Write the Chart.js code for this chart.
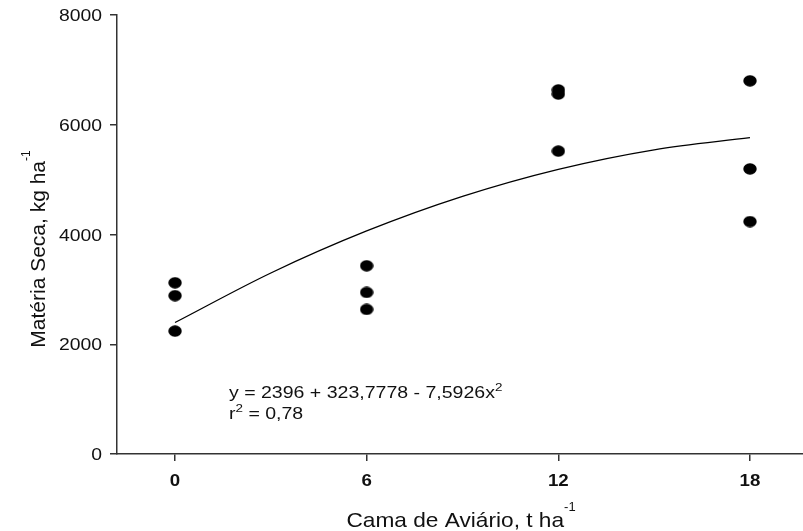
<!DOCTYPE html>
<html>
<head>
<meta charset="utf-8">
<script src="https://cdn.jsdelivr.net/npm/chart.js@4/dist/chart.umd.min.js"></script>
<style>
  body { margin: 0; background: #fff; }
  #wrap { width: 803px; height: 531px; }
</style>
</head>
<body>
<div id="wrap"><canvas id="chart" width="803" height="531"></canvas></div>
<script>
const doses = [0, 0, 0, 6, 6, 6, 12, 12, 12, 18, 18, 18];
const materiaSeca = [3120, 2885, 2240, 3430, 2945, 2635, 6635, 6560, 5520, 6800, 5195, 4235];

// Fitted curve, read at a few doses
const curveDoses = [0, 3, 6, 9, 12, 15, 18];
const curveValues = [2396, 3299, 4065, 4695, 5188, 5544, 5764];

// Tick labels
const xTicks = [0, 6, 12, 18];
const yTicks = [0, 2000, 4000, 6000, 8000];

const FONT = "'Liberation Sans', Arial, Helvetica, sans-serif";

// Filled ellipse used as the marker
function makeDot() {
    const c = document.createElement('canvas');
    c.width = 14;
    c.height = 12;
    const g = c.getContext('2d');
    g.fillStyle = '#000';
    g.beginPath();
    g.ellipse(7, 6, 6.7, 5.7, 0, 0, Math.PI * 2);
    g.fill();
    return c;
}

// Draw text pieces (with optional superscripts), stretched horizontally by sx
function drawRich(ctx, parts, x, y, o) {
    const size = o.size, sx = o.sx || 1;
    const weight = o.bold ? 'bold ' : '';
    const supSize = o.supSize || Math.round(size * 0.6);
    let total = 0;
    const widths = parts.map(p => {
        ctx.font = weight + (p.sup ? supSize : size) + 'px ' + FONT;
        const w = ctx.measureText(p.t).width * sx;
        total += w;
        return w;
    });
    ctx.save();
    ctx.translate(x, y);
    if (o.rotate) ctx.rotate(o.rotate);
    let cx = o.align === 'right' ? -total : o.align === 'center' ? -total / 2 : 0;
    ctx.fillStyle = '#111';
    ctx.textBaseline = 'alphabetic';
    ctx.textAlign = 'left';
    parts.forEach((p, i) => {
        ctx.save();
        ctx.font = weight + (p.sup ? supSize : size) + 'px ' + FONT;
        ctx.translate(cx, p.sup ? -o.supRaise : 0);
        ctx.scale(sx, 1);
        ctx.fillText(p.t, 0, 0);
        ctx.restore();
        cx += widths[i];
    });
    ctx.restore();
}

const textPlugin = {
    id: 'texts',
    afterDraw(chart) {
        const ctx = chart.ctx;
        const xs = chart.scales.x, ys = chart.scales.y;

        // y tick labels
        ys.ticks.forEach(t => {
            const py = ys.getPixelForValue(t.value);
            drawRich(ctx, [{ t: String(t.value) }], 102, py + 6, { size: 16, sx: 1.21, align: 'right' });
        });
        // x tick labels
        xs.ticks.forEach(t => {
            const px = xs.getPixelForValue(t.value);
            drawRich(ctx, [{ t: String(t.value) }], px, 485.5, { size: 17, sx: 1.1, bold: true, align: 'center' });
        });

        // axis titles
        drawRich(ctx, [{ t: 'Cama de Aviário, t ha' }, { t: '-1', sup: true }], 461, 527,
            { size: 21, sx: 1.08, align: 'center', supSize: 12, supRaise: 16 });
        drawRich(ctx, [{ t: 'Matéria Seca, kg ha' }, { t: '-1', sup: true }], 45, 249,
            { size: 21, sx: 1.0, align: 'center', rotate: -Math.PI / 2, supSize: 12, supRaise: 15 });

        // regression equation
        drawRich(ctx, [{ t: 'y = 2396 + 323,7778 - 7,5926x' }, { t: '2', sup: true }], 229, 397.5,
            { size: 16, sx: 1.22, supSize: 11, supRaise: 7 });
        drawRich(ctx, [{ t: 'r' }, { t: '2', sup: true }, { t: ' = 0,78' }], 229, 418.5,
            { size: 16, sx: 1.22, supSize: 11, supRaise: 7 });
    }
};

const chart = new Chart(document.getElementById('chart'), {
    type: 'scatter',
    data: {
        datasets: [
            {
                label: 'Matéria Seca',
                data: doses.map((d, i) => ({ x: d, y: materiaSeca[i] })),
                pointStyle: makeDot(),
                pointRadius: 6,
                backgroundColor: '#000',
                borderColor: '#000'
            },
            {
                label: 'Ajuste',
                data: curveDoses.map((d, i) => ({ x: d, y: curveValues[i] })),
                showLine: true,
                cubicInterpolationMode: 'monotone',
                borderColor: '#000',
                borderWidth: 1.3,
                pointRadius: 0,
                fill: false
            }
        ]
    },
    options: {
        responsive: false,
        animation: false,
        layout: { autoPadding: false, padding: { top: 15, right: 0, left: 0, bottom: 0 } },
        plugins: {
            legend: { display: false },
            tooltip: { enabled: false }
        },
        scales: {
            x: {
                type: 'linear',
                min: -1.816,
                max: 19.66,
                afterBuildTicks: s => { s.ticks = xTicks.map(v => ({ value: v })); },
                afterFit: s => { s.height = 77; },
                ticks: { display: false },
                grid: {
                    drawOnChartArea: false,
                    drawTicks: true,
                    tickLength: 7,
                    color: '#333',
                    lineWidth: 1.5
                },
                border: { display: true, color: '#333', width: 1.5 }
            },
            y: {
                type: 'linear',
                min: 0,
                max: 8000,
                afterBuildTicks: s => { s.ticks = yTicks.map(v => ({ value: v })); },
                afterFit: s => { s.width = 117; },
                ticks: { display: false },
                grid: {
                    drawOnChartArea: false,
                    drawTicks: true,
                    tickLength: 7,
                    color: '#333',
                    lineWidth: 1.5
                },
                border: { display: true, color: '#333', width: 1.5 }
            }
        }
    },
    plugins: [textPlugin]
});
</script>
</body>
</html>
